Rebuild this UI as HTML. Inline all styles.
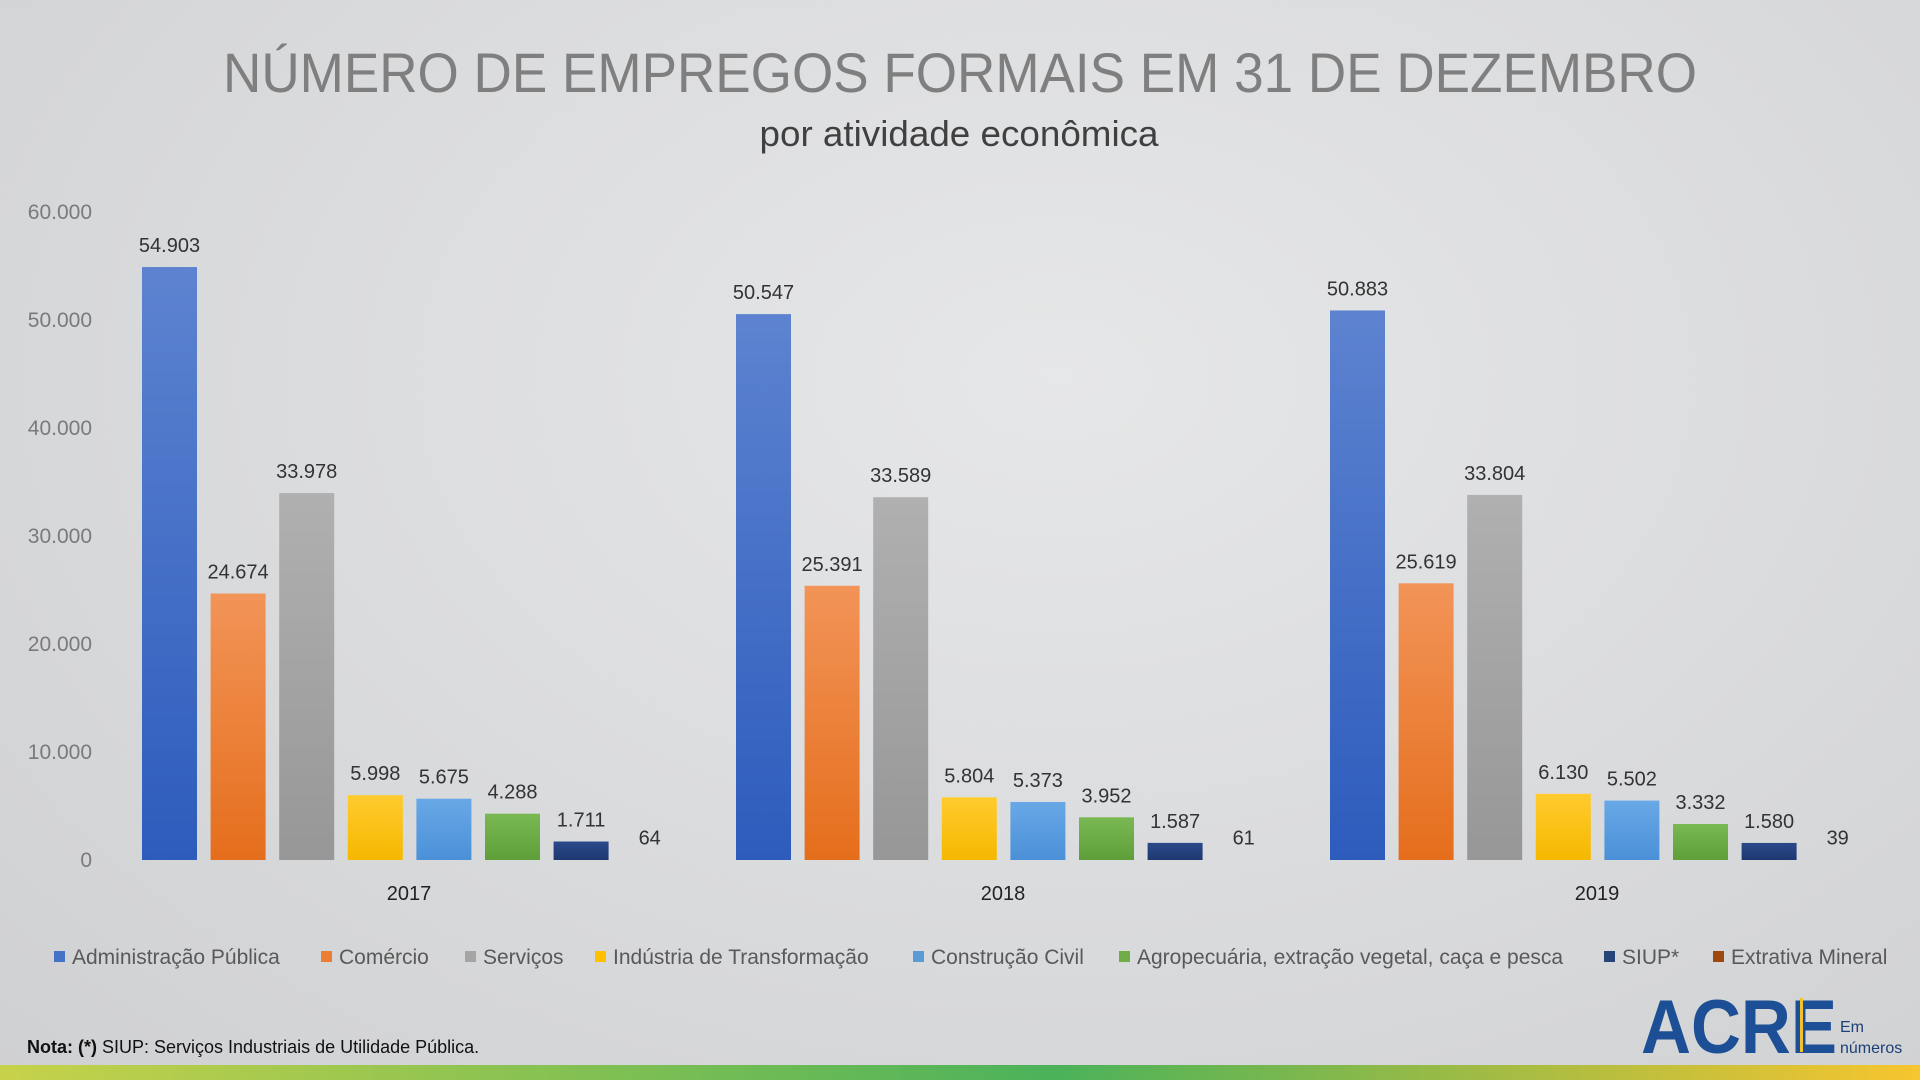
<!DOCTYPE html>
<html><head><meta charset="utf-8"><style>
html,body{margin:0;padding:0;width:1920px;height:1080px;overflow:hidden}
body{background:radial-gradient(ellipse at 55% 35%,#e6e7e8 0%,#dcdddf 45%,#cfd0d2 100%);font-family:"Liberation Sans",sans-serif}
</style></head><body>
<svg id="s" width="1920" height="1080" xmlns="http://www.w3.org/2000/svg" font-family="Liberation Sans, sans-serif">
<defs>
<linearGradient id="g0" x1="0" y1="0" x2="0" y2="1"><stop offset="0" stop-color="#5d83d0"/><stop offset="1" stop-color="#2d5cbd"/></linearGradient>
<linearGradient id="g1" x1="0" y1="0" x2="0" y2="1"><stop offset="0" stop-color="#f29458"/><stop offset="1" stop-color="#e56e1c"/></linearGradient>
<linearGradient id="g2" x1="0" y1="0" x2="0" y2="1"><stop offset="0" stop-color="#b0b0b0"/><stop offset="1" stop-color="#979797"/></linearGradient>
<linearGradient id="g3" x1="0" y1="0" x2="0" y2="1"><stop offset="0" stop-color="#ffcb2e"/><stop offset="1" stop-color="#f5b800"/></linearGradient>
<linearGradient id="g4" x1="0" y1="0" x2="0" y2="1"><stop offset="0" stop-color="#68a8e6"/><stop offset="1" stop-color="#4b90d8"/></linearGradient>
<linearGradient id="g5" x1="0" y1="0" x2="0" y2="1"><stop offset="0" stop-color="#79b852"/><stop offset="1" stop-color="#5f9f3a"/></linearGradient>
<linearGradient id="g6" x1="0" y1="0" x2="0" y2="1"><stop offset="0" stop-color="#2b4a8a"/><stop offset="1" stop-color="#1e3870"/></linearGradient>
<linearGradient id="bot" x1="0" y1="0" x2="1" y2="0"><stop offset="0" stop-color="#c7d24a"/><stop offset="0.55" stop-color="#4bb25a"/><stop offset="1" stop-color="#f7c52f"/></linearGradient>
</defs>
<text x="960" y="92" text-anchor="middle" font-size="56" fill="#7f7f7f" textLength="1474" lengthAdjust="spacingAndGlyphs">NÚMERO DE EMPREGOS FORMAIS EM 31 DE DEZEMBRO</text>
<text x="959" y="146" text-anchor="middle" font-size="36" fill="#404040" textLength="399" lengthAdjust="spacingAndGlyphs">por atividade econômica</text>
<g id="ax" font-size="21" fill="#7a7a7a" text-anchor="end"></g>
<g id="bars"></g>
<g id="leg" font-size="21" fill="#595959"></g>
<text x="27" y="1053" font-size="18" fill="#111"><tspan font-weight="bold">Nota: (*)</tspan> SIUP: Serviços Industriais de Utilidade Pública.</text>
<text x="1641" y="1053" font-size="76" font-weight="bold" fill="#1c4f95" textLength="196" lengthAdjust="spacingAndGlyphs">ACRE</text>
<rect x="1800" y="998" width="3" height="54" fill="#f2c12e"/>
<text x="1840" y="1032" font-size="16" fill="#1c3f77">Em</text>
<text x="1840" y="1053" font-size="16" fill="#1c3f77">números</text>
<rect x="0" y="1065" width="1920" height="15" fill="url(#bot)"/>
</svg>
<script>
var s='http://www.w3.org/2000/svg';
function el(p,t,a,txt){var e=document.createElementNS(s,t);for(var k in a)e.setAttribute(k,a[k]);if(txt!=null)e.textContent=txt;document.getElementById(p).appendChild(e);return e;}
for(var i=0;i<=6;i++){el('ax','text',{x:92,y:860-i*108+7},i==0?'0':(i*10)+'.000');}
var data=[[54903,24674,33978,5998,5675,4288,1711,64],[50547,25391,33589,5804,5373,3952,1587,61],[50883,25619,33804,6130,5502,3332,1580,39]];
var fills=['url(#g0)','url(#g1)','url(#g2)','url(#g3)','url(#g4)','url(#g5)','url(#g6)','#c55a11'];
var years=['2017','2018','2019'];
function fmt(v){var t=String(v);return t.length>3?t.slice(0,t.length-3)+'.'+t.slice(-3):t;}
for(var g=0;g<3;g++){var x0=142+g*594;
 for(var b=0;b<8;b++){var v=data[g][b],h=v*0.0108,x=x0+b*68.6;
  if(b<7)el('bars','rect',{x:x,y:860-h,width:55,height:h,fill:fills[b]});
  el('bars','text',{x:x+27.5,y:860-h-15,'text-anchor':'middle','font-size':20,fill:'#333'},fmt(v));}
 el('bars','text',{x:x0+267,y:900,'text-anchor':'middle','font-size':20,fill:'#222'},years[g]);}
var leg=[['Administração Pública',54],['Comércio',321],['Serviços',465],['Indústria de Transformação',595],['Construção Civil',913],['Agropecuária, extração vegetal, caça e pesca',1119],['SIUP*',1604],['Extrativa Mineral',1713]];
var lc=['#4472c4','#ed7d31','#a5a5a5','#ffc000','#5b9bd5','#70ad47','#264478','#9e480e'];
for(var i=0;i<8;i++){el('leg','rect',{x:leg[i][1],y:951,width:11,height:11,fill:lc[i]});el('leg','text',{x:leg[i][1]+18,y:964},leg[i][0]);}
</script>
</body></html>
